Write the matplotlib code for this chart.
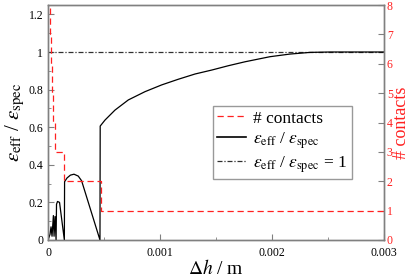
import matplotlib
matplotlib.use("Agg")
import matplotlib.pyplot as plt
from matplotlib.ticker import MultipleLocator
from matplotlib.lines import Line2D

plt.rcParams['font.family'] = ['Liberation Serif', 'DejaVu Serif']
plt.rcParams['mathtext.fontset'] = 'stix'

# contacts step data (x in m, number of contacts)
contacts_x = [0, 0.000004, 0.000008, 0.000012, 0.000018, 0.000025, 0.000035, 0.000045, 0.000060, 0.000143, 0.000470, 0.003]
contacts_n = [11, 10, 9, 8, 7, 6, 5, 4, 3, 2, 1, 1]

# efficiency ratio curve
eff_x = [0, 0.000018, 0.000027, 0.000036, 0.000048, 0.000054, 0.000063, 0.000072, 0.000076, 0.000085, 0.000103, 0.000146,
         0.000148, 0.00017, 0.0002, 0.000232, 0.00027, 0.0003, 0.000464, 0.000466,
         0.000509, 0.000598, 0.000717, 0.000866, 0.001015, 0.001163, 0.001313, 0.001462, 0.00161,
         0.001759, 0.001982, 0.00216, 0.00234, 0.00252, 0.003]
eff_y = [0, 0.03, 0.07, 0.02, 0.13, 0.02, 0.125, 0.0, 0.19, 0.205, 0.2, 0.0,
         0.31, 0.33, 0.345, 0.35, 0.34, 0.315, 0.0, 0.606,
         0.638, 0.691, 0.745, 0.789, 0.825, 0.855, 0.883, 0.904, 0.927,
         0.948, 0.975, 0.989, 0.998, 1.0, 1.0]

ref_x = [0, 0.003]
ref_y = [1, 1]

fig = plt.figure(figsize=(4.11, 2.78), dpi=100)
ax = fig.add_axes([0.1168, 0.1367, 0.9343 - 0.1168, 0.982 - 0.1367])
ax2 = ax.twinx()

ax.plot(eff_x, eff_y, color='black', lw=0.9, zorder=3)
ax.plot(ref_x, ref_y, color='#303030', lw=0.9, dashes=(4, 1.5, 1, 1.5), zorder=2)
ax2.plot(contacts_x, contacts_n, color='#ff2020', lw=0.9, drawstyle='steps-post', dashes=(5, 3))

ax.set_xlim(0, 0.003)
ax.set_ylim(0, 1.25)
ax2.set_ylim(0, 8)

gray = '#808080'
for a in (ax, ax2):
    for s in a.spines.values():
        s.set_color(gray)
        s.set_linewidth(1.0)

ax.set_xticks([0, 0.001, 0.002, 0.003])
ax.set_xticklabels(['0', '0.001', '0.002', '0.003'])
ax.xaxis.set_minor_locator(MultipleLocator(0.0005))
ax.set_yticks([0, 0.2, 0.4, 0.6, 0.8, 1.0, 1.2])
ax.set_yticklabels(['0', '0.2', '0.4', '0.6', '0.8', '1', '1.2'])
ax.yaxis.set_minor_locator(MultipleLocator(0.1))
ax.tick_params(which='both', direction='in', color=gray, labelsize=8.5, top=False, right=False)
ax.tick_params(which='major', length=4)
ax.tick_params(which='minor', length=2)
ax.tick_params(axis='x', pad=5)

ax2.set_yticks(range(0, 9))
ax2.tick_params(direction='in', color=gray, labelcolor='#ff2020', labelsize=8.5, length=4, pad=2)

ax.set_xlabel(r'$\Delta h$ / m', fontsize=14, labelpad=0)
ax.set_ylabel(r'$\varepsilon_{\rm eff}$ / $\varepsilon_{\rm spec}$', fontsize=15, labelpad=1)
ax2.set_ylabel('# contacts', fontsize=13, color='#ff2020', labelpad=0)

handles = [
    Line2D([], [], color='#ff2020', lw=0.9, dashes=(5, 3)),
    Line2D([], [], color='black', lw=1.2),
    Line2D([], [], color='#303030', lw=0.9, dashes=(4, 1.5, 1, 1.5)),
]
labels = ['# contacts',
          r'$\varepsilon_{\rm eff}$ / $\varepsilon_{\rm spec}$',
          r'$\varepsilon_{\rm eff}$ / $\varepsilon_{\rm spec}$ = 1']
leg = ax2.legend(handles, labels, loc='upper left', bbox_to_anchor=(0.49, 0.57),
                 fontsize=12.5, frameon=True, fancybox=False, edgecolor=gray,
                 handlelength=1.7, handletextpad=0.4, borderpad=0.25, labelspacing=0.2,
                 borderaxespad=0)
leg.get_frame().set_linewidth(1.0)

fig.savefig('out.png', dpi=100)
